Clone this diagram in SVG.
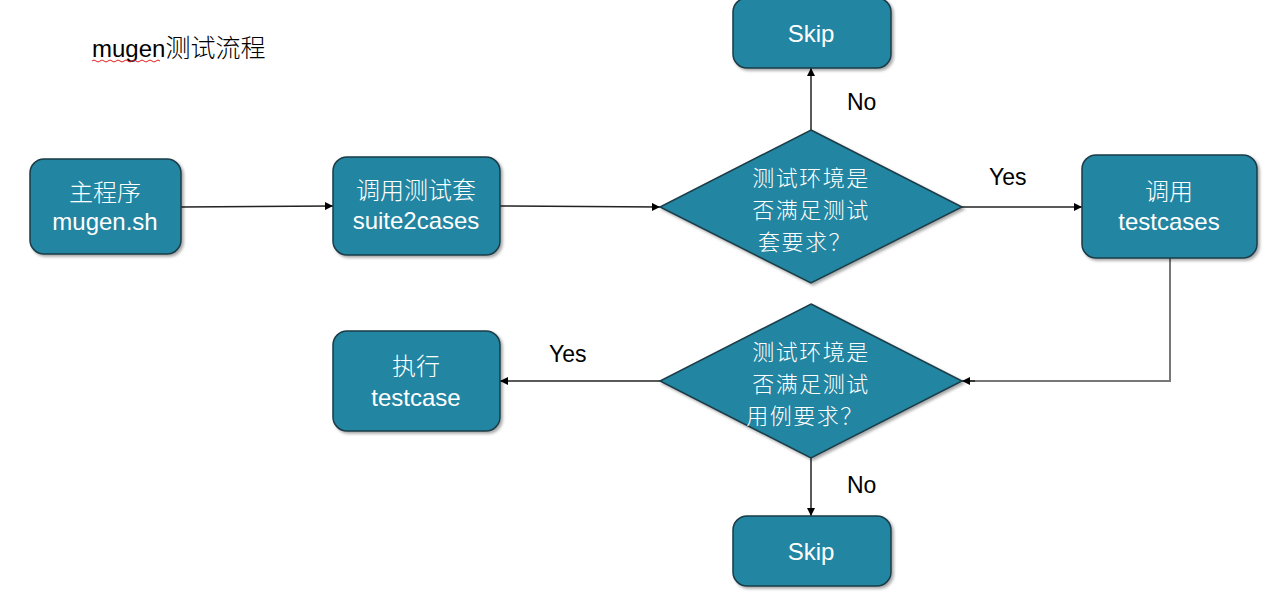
<svg xmlns="http://www.w3.org/2000/svg" width="1280" height="598" viewBox="0 0 1280 598">
<style>
.box{fill:#2385a2;stroke:#1b3c47;stroke-width:1.5}
.nt{fill:#ffffff;font-family:"Liberation Sans","Noto Sans CJK SC",sans-serif;font-size:24px;text-anchor:middle}
.dt{fill:#ffffff;font-family:"Noto Sans CJK SC",sans-serif;font-size:24px;text-anchor:middle;font-weight:300}
.dd{fill:#ffffff;font-family:"Noto Sans CJK SC",sans-serif;font-size:22px;letter-spacing:1.5px;text-anchor:middle;font-weight:300}
.lbl{fill:#000000;font-family:"Liberation Sans",sans-serif;font-size:23px}
.edge{fill:none;stroke:#222;stroke-width:1.5}
.edge2{fill:none;stroke:#777;stroke-width:2}
</style>
<defs>
<marker id="ah" viewBox="0 0 10 10" refX="10" refY="5" markerWidth="8" markerHeight="8" markerUnits="userSpaceOnUse" orient="auto">
<path d="M0,0 L10,5 L0,10 z" fill="#000"/>
</marker>
<filter id="sh" x="-10%" y="-10%" width="125%" height="125%">
<feDropShadow dx="2" dy="2" stdDeviation="1.5" flood-color="#000" flood-opacity="0.35"/>
</filter>
</defs>
<rect width="1280" height="598" fill="#ffffff"/>
<g id="title">
<text x="92" y="57" font-family="'Liberation Sans','Noto Sans CJK SC',sans-serif" font-size="24" fill="#000">mugen<tspan font-family="'Noto Sans CJK SC',sans-serif" font-weight="300" font-size="25">测试流程</tspan></text>
<path d="M92,61 q2,-2 4,0 t4,0 t4,0 t4,0 t4,0 t4,0 t4,0 t4,0 t4,0 t4,0 t4,0 t4,0 t4,0 t4,0 t4,0 t4,0 t4,0" fill="none" stroke="#e02020" stroke-width="1"/>
</g>
<g id="connectors">
<path class="edge" d="M181,207 L333,206" marker-end="url(#ah)"/>
<path class="edge" d="M500,206 L660,207" marker-end="url(#ah)"/>
<path class="edge" d="M811,130 L811,68" marker-end="url(#ah)"/>
<path class="edge" d="M962,207 L1082,207" marker-end="url(#ah)"/>
<path class="edge2" d="M1170,258 L1170,381 L970,381"/>
<path class="edge" d="M975,381 L962,381" marker-end="url(#ah)"/>
<path class="edge" d="M660,381 L500,381" marker-end="url(#ah)"/>
<path class="edge" d="M811,458 L811,516" marker-end="url(#ah)"/>
<text class="lbl" x="847" y="110">No</text>
<text class="lbl" x="989" y="185">Yes</text>
<text class="lbl" x="549" y="362">Yes</text>
<text class="lbl" x="847" y="493">No</text>
</g>
<g id="main">
<rect class="box" filter="url(#sh)" x="30" y="159" width="151" height="95" rx="14"/>
<text class="dt" x="105" y="201">主程序</text>
<text class="nt" x="105" y="230">mugen.sh</text>
</g>
<g id="suite">
<rect class="box" filter="url(#sh)" x="333" y="157" width="167" height="98" rx="14"/>
<text class="dt" x="416" y="199">调用测试套</text>
<text class="nt" x="416" y="229">suite2cases</text>
</g>
<g id="check-suite">
<polygon class="box" filter="url(#sh)" points="811,130 962,207 811,283 660,207"/>
<text class="dd" x="811" y="186">测试环境是</text>
<text class="dd" x="811" y="218">否满足测试</text>
<text class="dd" x="805" y="250">套要求？</text>
</g>
<g id="skip-top">
<rect class="box" filter="url(#sh)" x="733" y="-2" width="158" height="70" rx="14"/>
<text class="nt" x="811" y="42">Skip</text>
</g>
<g id="testcases">
<rect class="box" filter="url(#sh)" x="1082" y="155" width="175" height="103" rx="14"/>
<text class="dt" x="1169" y="200">调用</text>
<text class="nt" x="1169" y="230">testcases</text>
</g>
<g id="check-case">
<polygon class="box" filter="url(#sh)" points="811,304 962,381 811,458 660,381"/>
<text class="dd" x="811" y="360">测试环境是</text>
<text class="dd" x="811" y="392">否满足测试</text>
<text class="dd" x="805" y="424">用例要求？</text>
</g>
<g id="run">
<rect class="box" filter="url(#sh)" x="333" y="331" width="167" height="100" rx="14"/>
<text class="dt" x="416" y="375">执行</text>
<text class="nt" x="416" y="406">testcase</text>
</g>
<g id="skip-bottom">
<rect class="box" filter="url(#sh)" x="733" y="516" width="158" height="70" rx="14"/>
<text class="nt" x="811" y="560">Skip</text>
</g>
</svg>
